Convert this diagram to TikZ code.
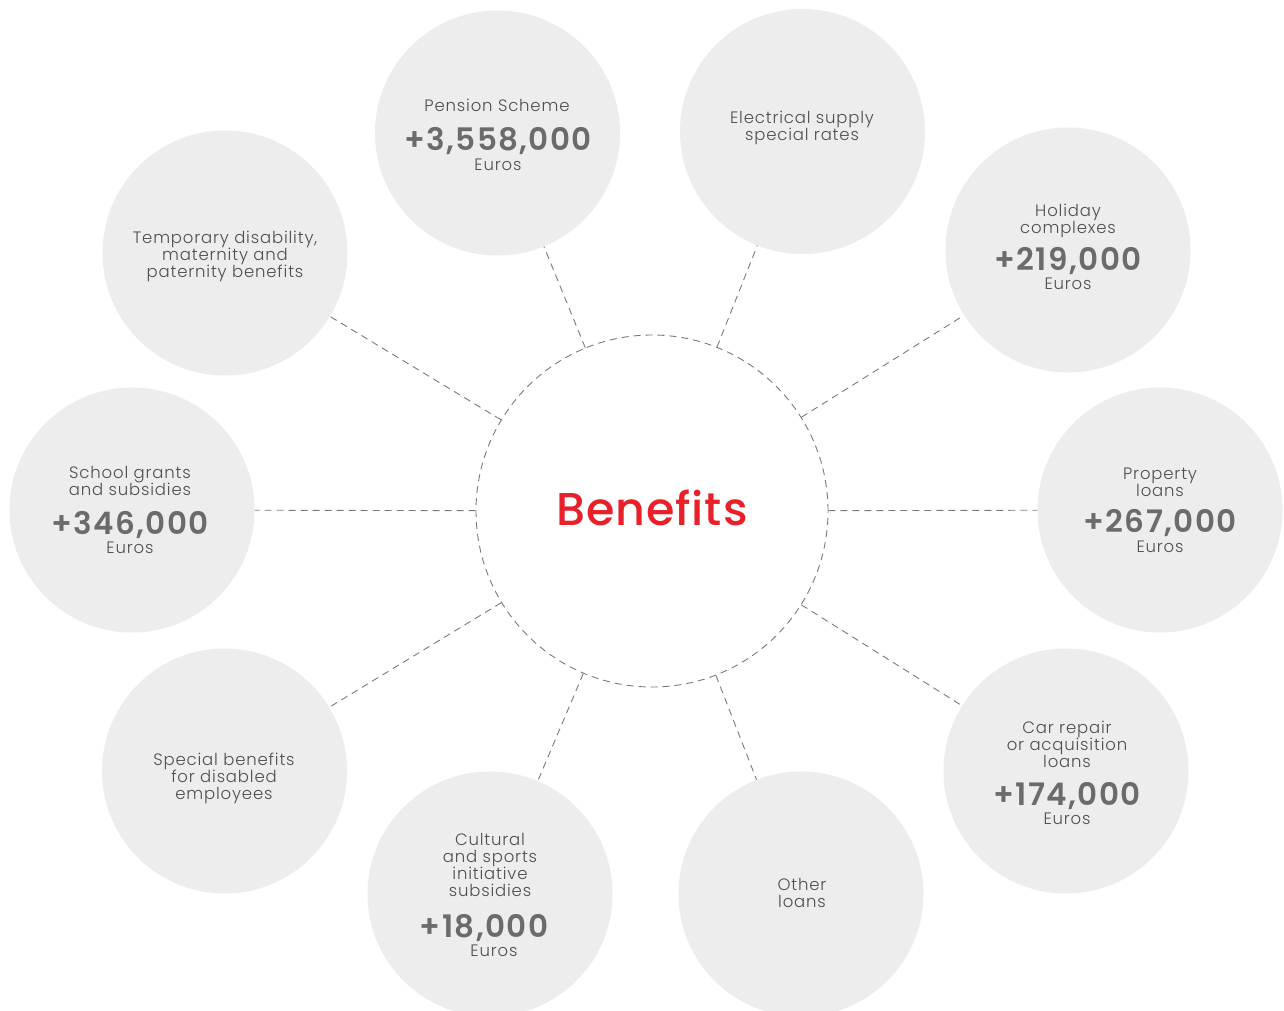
\documentclass[tikz,border=0pt]{standalone}
\usepackage{fontspec}
\setmainfont{Poppins}
\IfFontExistsTF{Poppins Light}{\newfontfamily\lightf{Poppins Light}[LetterSpace=5]}{\newfontfamily\lightf{Poppins}[LetterSpace=4]}
\IfFontExistsTF{Poppins SemiBold}{\newfontfamily\medf{Poppins SemiBold}[LetterSpace=4.5]}{\newfontfamily\medf{Poppins}[LetterSpace=7]}
\IfFontExistsTF{Poppins Medium}{\newfontfamily\titf{Poppins Medium}[LetterSpace=2]}{\newfontfamily\titf{Poppins}[LetterSpace=2]}
\definecolor{bubble}{HTML}{EDEDED}
\definecolor{txt}{HTML}{4F4F4F}
\definecolor{numc}{HTML}{6B6B6B}
\definecolor{dashc}{HTML}{7A7A7A}
\definecolor{redc}{HTML}{E8202A}
\tikzset{
  bubble/.style={circle, fill=bubble, minimum size=245pt, inner sep=0pt},
  hub/.style={circle, draw=dashc, line width=0.9pt, dash pattern=on 7pt off 5pt, minimum size=352pt, inner sep=0pt},
  link/.style={draw=dashc, line width=0.9pt, dash pattern=on 7pt off 5pt},
  lbl/.style={align=center, text=txt, inner sep=0pt, font=\lightf\fontsize{16.5}{17}\selectfont},
  numl/.style={text=numc, inner sep=0pt, font=\medf\fontsize{31}{31}\selectfont},
  eur/.style={text=txt, inner sep=0pt, font=\lightf\fontsize{16.5}{17}\selectfont},
}
\begin{document}
\begin{tikzpicture}[x=1pt,y=-1pt]
\useasboundingbox (0,0) rectangle (1284,1011);
\clip (0,0) rectangle (1284,1011);
\fill[white] (0,0) rectangle (1284,1011);
% hub
\node[hub] (c) at (652,511) {};
\node[text=redc, inner sep=0pt, font=\titf\fontsize{46}{46}\selectfont] (ct) at (652,508) {Benefits};
% bubbles
\node[bubble] (p1) at (497.5,133) {};
\node[bubble] (p2) at (802.5,131.5) {};
\node[bubble] (p3) at (1068,250) {};
\node[bubble] (p4) at (1160,510) {};
\node[bubble] (p5) at (1066,771) {};
\node[bubble] (p6) at (801,894) {};
\node[bubble] (p7) at (490,894) {};
\node[bubble] (p8) at (224.5,771) {};
\node[bubble] (p9) at (132,510) {};
\node[bubble] (p10) at (225,253) {};
% links
\foreach \i in {1,...,10} { \draw[link] (c) -- (p\i); }
% texts
\node[lbl] (t1) at (497,105) {Pension Scheme};
\node[numl] (n1) at (498,141) {+3,558,000};
\node[eur] (e1) at (498,165) {Euros};

\node[lbl] (t2) at (802,127.5) {Electrical supply\\special rates};

\node[lbl] (t3) at (1068,220.5) {Holiday\\complexes};
\node[numl] (n3) at (1068,261) {+219,000};
\node[eur] (e3) at (1068,284) {Euros};

\node[lbl] (t4) at (1160,482.5) {Property\\loans};
\node[numl] (n4) at (1160,523) {+267,000};
\node[eur] (e4) at (1160,547) {Euros};

\node[lbl] (t5) at (1067,744) {Car repair\\or acquisition\\loans};
\node[numl] (n5) at (1067,796) {+174,000};
\node[eur] (e5) at (1067,819) {Euros};

\node[lbl] (t6) at (802,892.5) {Other\\loans};

\node[lbl] (t7) at (490,864.5) {Cultural\\and sports\\initiative\\subsidies};
\node[numl] (n7) at (484,928) {+18,000};
\node[eur] (e7) at (494,951) {Euros};

\node[lbl] (t8) at (224,778.5) {Special benefits\\for disabled\\employees};

\node[lbl] (t9) at (130,480.5) {School grants\\and subsidies};
\node[numl] (n9) at (130,525) {+346,000};
\node[eur] (e9) at (130,548) {Euros};

\node[lbl] (t10) at (225,256) {Temporary disability,\\maternity and\\paternity benefits};
\end{tikzpicture}
\end{document}
